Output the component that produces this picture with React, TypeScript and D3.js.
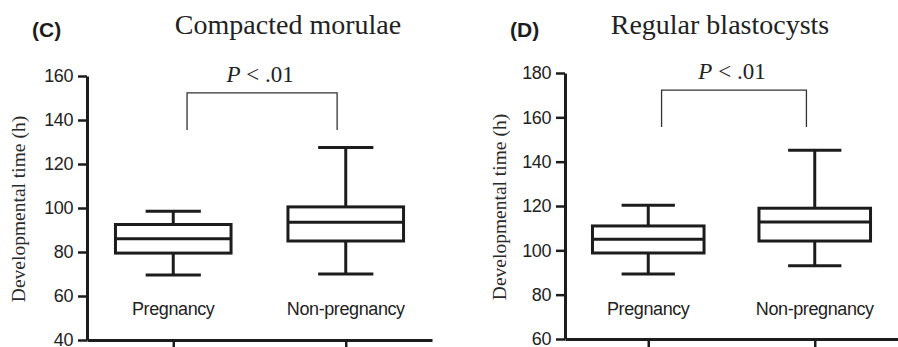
import React, { useEffect, useRef } from 'react';
import * as d3 from 'd3';

// groups shared by both panels
const groups = ['Pregnancy', 'Non-pregnancy'];

// (C) compacted morulae, hours
const morulaeMin = [69.5, 70];
const morulaeQ1 = [79.5, 85];
const morulaeMedian = [86, 93.5];
const morulaeQ3 = [92.5, 100.5];
const morulaeMax = [98.5, 127.5];
const morulaeTicks = [40, 60, 80, 100, 120, 140, 160];
const morulaeBracket = [152.3, 135.5]; // top, leg end

// (D) regular blastocysts, hours
const blastMin = [89.3, 93];
const blastQ1 = [98.8, 104.2];
const blastMedian = [105, 112.8];
const blastQ3 = [111, 119];
const blastMax = [120.3, 145.2];
const blastTicks = [60, 80, 100, 120, 140, 160, 180];
const blastBracket = [172.3, 155.6];

const pLabel = '.01';

const INK = '#1c1c1c';

function drawPanel(svg, opts) {
  const { letter, title, titleX, ticks, x0, x1, yBottom, yTop, min, q1, med, q3, max, bracket, labelX } = opts;

  const y = d3.scaleLinear()
    .domain([ticks[0], ticks[ticks.length - 1]])
    .range([yBottom, yTop]);

  const x = d3.scalePoint()
    .domain(groups)
    .range([x0, x1])
    .padding(0.5);

  const step = x.step();
  const boxW = step * 0.67;
  const capW = step * 0.32;

  const g = svg.append('g');

  // letter + title
  g.append('text')
    .attr('x', x0 - 55)
    .attr('y', 37)
    .attr('font-family', 'Liberation Sans, Arial, sans-serif')
    .attr('font-weight', 'bold')
    .attr('font-size', 21)
    .attr('fill', INK)
    .text(letter);

  g.append('text')
    .attr('x', titleX)
    .attr('y', 34)
    .attr('text-anchor', 'middle')
    .attr('font-family', 'Liberation Serif, Times New Roman, serif')
    .attr('font-size', 28)
    .attr('fill', '#222')
    .text(title);

  // y axis
  const yAxis = g.append('g')
    .attr('transform', `translate(${x0},0)`)
    .call(d3.axisLeft(y).tickValues(ticks).tickSize(9).tickSizeOuter(0).tickPadding(5));
  yAxis.select('.domain').attr('stroke', INK).attr('stroke-width', 3);
  yAxis.selectAll('.tick line').attr('stroke', INK).attr('stroke-width', 2.5);
  yAxis.selectAll('.tick text')
    .attr('font-family', 'Liberation Sans, Arial, sans-serif')
    .attr('font-size', 18)
    .attr('letter-spacing', -0.4)
    .attr('fill', '#222');

  // x axis
  const xAxis = g.append('g')
    .attr('transform', `translate(0,${yBottom})`)
    .call(d3.axisBottom(x).tickSize(12).tickSizeOuter(0).tickFormat(() => ''));
  xAxis.select('.domain').attr('stroke', INK).attr('stroke-width', 3);
  xAxis.selectAll('.tick line').attr('stroke', INK).attr('stroke-width', 2.5);

  // y axis title
  g.append('text')
    .attr('transform', `translate(${labelX},${(yTop + yBottom) / 2 + 1}) rotate(-90)`)
    .attr('text-anchor', 'middle')
    .attr('font-family', 'Liberation Serif, Times New Roman, serif')
    .attr('font-size', 19.5)
    .attr('fill', '#2a2a2a')
    .text('Developmental time (h)');

  // boxes
  groups.forEach((grp, i) => {
    const cx = x(grp);
    const b = g.append('g').attr('stroke', INK).attr('stroke-width', 3).attr('fill', 'none');
    b.append('line').attr('x1', cx).attr('x2', cx).attr('y1', y(max[i])).attr('y2', y(q3[i]));
    b.append('line').attr('x1', cx).attr('x2', cx).attr('y1', y(q1[i])).attr('y2', y(min[i]));
    b.append('line').attr('x1', cx - capW / 2).attr('x2', cx + capW / 2).attr('y1', y(max[i])).attr('y2', y(max[i]));
    b.append('line').attr('x1', cx - capW / 2).attr('x2', cx + capW / 2).attr('y1', y(min[i])).attr('y2', y(min[i]));
    b.append('rect')
      .attr('x', cx - boxW / 2)
      .attr('y', y(q3[i]))
      .attr('width', boxW)
      .attr('height', y(q1[i]) - y(q3[i]));
    b.append('line').attr('x1', cx - boxW / 2).attr('x2', cx + boxW / 2).attr('y1', y(med[i])).attr('y2', y(med[i]));

    g.append('text')
      .attr('x', cx)
      .attr('y', 315)
      .attr('text-anchor', 'middle')
      .attr('font-family', 'Liberation Sans, Arial, sans-serif')
      .attr('font-size', 18)
      .attr('letter-spacing', -0.4)
      .attr('fill', '#222')
      .text(grp);
  });

  // significance bracket
  const bx0 = x(groups[0]) + step * 0.08;
  const bx1 = x(groups[1]) - step * 0.05;
  g.append('path')
    .attr('d', `M${bx0},${y(bracket[1])}V${y(bracket[0])}H${bx1}V${y(bracket[1])}`)
    .attr('fill', 'none')
    .attr('stroke', '#333')
    .attr('stroke-width', 1.3);

  const pt = g.append('text')
    .attr('x', (bx0 + bx1) / 2 - 2)
    .attr('y', y(bracket[0]) - 11)
    .attr('text-anchor', 'middle')
    .attr('font-family', 'Liberation Serif, Times New Roman, serif')
    .attr('font-size', 23)
    .attr('fill', '#222');
  pt.append('tspan').attr('font-style', 'italic').text('P');
  pt.append('tspan').text(` < ${pLabel}`);
}

export default function App() {
  const svgRef = useRef(null);

  useEffect(() => {
    const svg = d3.select(svgRef.current);
    svg.selectAll('*').remove();

    drawPanel(svg, {
      letter: '(C)', title: 'Compacted morulae', titleX: 288,
      ticks: morulaeTicks, x0: 87, x1: 432, yBottom: 340, yTop: 76,
      min: morulaeMin, q1: morulaeQ1, med: morulaeMedian, q3: morulaeQ3, max: morulaeMax,
      bracket: morulaeBracket, labelX: 25,
    });

    drawPanel(svg, {
      letter: '(D)', title: 'Regular blastocysts', titleX: 720,
      ticks: blastTicks, x0: 565, x1: 898, yBottom: 339, yTop: 73,
      min: blastMin, q1: blastQ1, med: blastMedian, q3: blastQ3, max: blastMax,
      bracket: blastBracket, labelX: 506,
    });
  }, []);

  return (
    <div style={{ position: 'absolute', left: 0, top: 0, background: '#fff' }}>
      <svg ref={svgRef} width={898} height={347} style={{ display: 'block' }} />
    </div>
  );
}
